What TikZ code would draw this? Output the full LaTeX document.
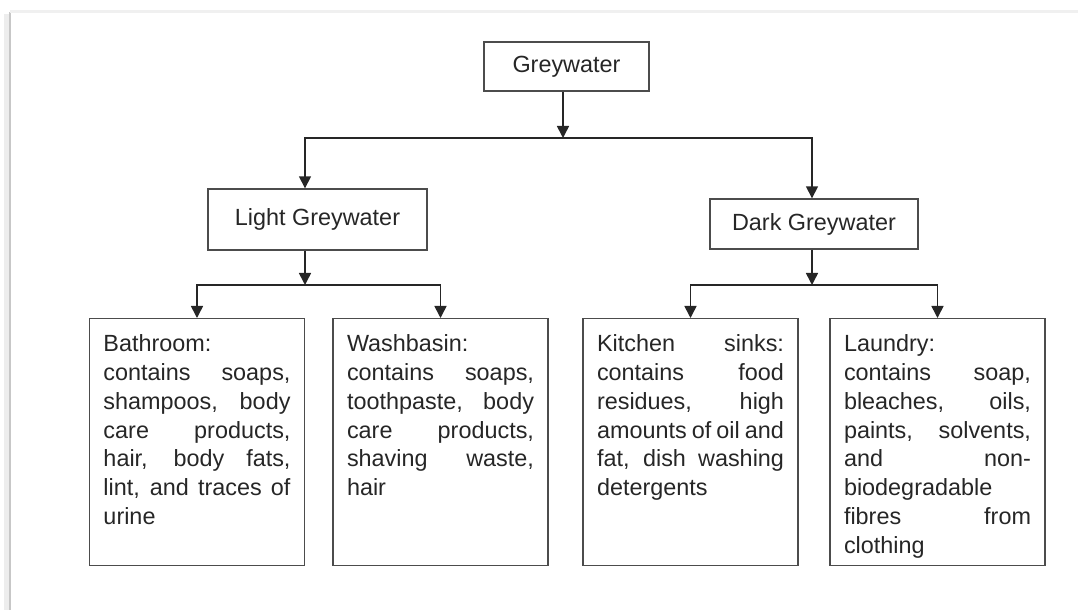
\documentclass[tikz,border=0pt]{standalone}
\usepackage{fontspec}
\setmainfont{Liberation Sans}
\usepackage{tikz}
\usetikzlibrary{positioning,arrows.meta,calc}

\newcommand{\boxtext}[1]{\parbox[c][107.5pt][t]{93.5pt}{\fontsize{11.7pt}{14.4pt}\selectfont #1}}

\begin{document}
\begin{tikzpicture}[
    x=0.5pt,
    y=-0.5pt,
    comp/.style={
        rectangle,
        draw=black!70,
        line width=0.7pt,
        text=black!85,
        font=\fontsize{11.7pt}{14.4pt}\selectfont,
        text centered,
        inner sep=0pt
    },
    detail/.style={
        rectangle,
        draw=black!70,
        line width=0.7pt,
        text=black!85,
        inner xsep=7pt,
        inner ysep=8pt,
        anchor=north
    },
    arrow/.style={-{Triangle[width=6pt,length=6pt]}, line width=0.8pt, draw=black!85}
]
    \useasboundingbox (0,0) rectangle (1078,610);

    % Page frame
    \draw[black!7, line width=3pt] (7,610) -- (7,14);
    \draw[black!22, line width=0.8pt] (10,610) -- (10,12);
    \draw[black!6, line width=1.5pt] (10,12) -- (1078,12);

    % Main component
    \node[comp, minimum width=82.5pt, minimum height=24.5pt] (grey) at (566.5,66.5) {Greywater};

    % Two kinds
    \node[comp, minimum width=109.5pt, minimum height=30.5pt] (light) at (317.5,219.5) {Light Greywater};
    \node[comp, minimum width=104pt, minimum height=25pt] (dark) at (814,224) {Dark Greywater};

    % Sources
    \node[detail] (bath) at (197,318) {\boxtext{Bathroom:\newline contains soaps,\linebreak shampoos, body\linebreak care products,\linebreak hair, body fats,\linebreak lint, and traces of\linebreak urine}};
    \node[detail] (wash) at (440.5,318) {\boxtext{Washbasin:\newline contains soaps,\linebreak toothpaste, body\linebreak care products,\linebreak shaving waste,\linebreak hair}};
    \node[detail] (kitchen) at (690.5,318) {\boxtext{Kitchen sinks:\linebreak contains food\linebreak residues, high\linebreak amounts of oil and\linebreak fat, dish washing\linebreak detergents}};
    \node[detail] (laundry) at (937.5,318) {\boxtext{Laundry:\newline contains soap,\linebreak bleaches, oils,\linebreak paints, solvents,\linebreak and non-\linebreak biodegradable\newline fibres from\linebreak clothing}};

    % Junctions
    \coordinate (topbar) at (563,138);
    \coordinate (lj) at (305,138);
    \coordinate (dj) at (812,138);
    \coordinate (lbar) at (305,285);
    \coordinate (dbar) at (812,285);

    % Connect
    \draw[arrow] (grey.south -| topbar) -- (topbar);
    \draw[arrow] (topbar) -- (lj) -- (lj |- light.north);
    \draw[arrow] (topbar) -- (dj) -- (dj |- dark.north);

    \draw[arrow] (light.south -| lbar) -- (lbar);
    \draw[arrow] (lbar) -| (bath);
    \draw[arrow] (lbar) -| (wash);

    \draw[arrow] (dark.south -| dbar) -- (dbar);
    \draw[arrow] (dbar) -| (kitchen);
    \draw[arrow] (dbar) -| (laundry);
\end{tikzpicture}
\end{document}
